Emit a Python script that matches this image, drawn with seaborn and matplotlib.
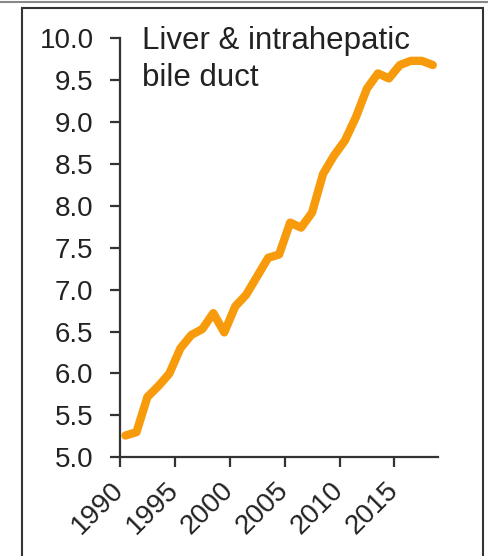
import matplotlib
matplotlib.use("Agg")
import matplotlib.pyplot as plt
import matplotlib.patches as mpatches
import matplotlib.lines as mlines
import matplotlib.transforms as mtransforms
import numpy as np
import pandas as pd
import seaborn as sns

years = list(range(1990, 2019))
rates = [5.26, 5.30, 5.72, 5.85, 6.00, 6.30, 6.46, 6.53, 6.72, 6.49,
         6.80, 6.94, 7.16, 7.38, 7.42, 7.80, 7.74, 7.92, 8.38, 8.60,
         8.78, 9.06, 9.40, 9.58, 9.52, 9.68, 9.73, 9.73, 9.68]
tick_years = [1990, 1995, 2000, 2005, 2010, 2015]
y_ticks = [5.0, 5.5, 6.0, 6.5, 7.0, 7.5, 8.0, 8.5, 9.0, 9.5, 10.0]
title = "Liver & intrahepatic\nbile duct"

sns.set_style("white")
plt.rcParams['font.family'] = ['Liberation Sans', 'DejaVu Sans']

df = pd.DataFrame({"year": years, "rate": rates})
# excel-style category axis: points sit mid-category
df["pos"] = df["year"] + 0.5

fig = plt.figure(figsize=(4.89, 5.56), dpi=100)
ax = fig.add_axes([0.2454, 0.1775, 0.8963 - 0.2454, 0.9313 - 0.1775])

sns.lineplot(data=df, x="pos", y="rate", color="#F79B0C", linewidth=6,
             ax=ax, legend=False, solid_capstyle="round", solid_joinstyle="round")

ax.set_xlim(1990, 2019)
ax.set_ylim(5.0, 10.0)
ax.set_xticks(tick_years)
ax.set_xticklabels([str(t) for t in tick_years], rotation=45, ha="right", va="center",
                   rotation_mode="anchor", fontsize=20, color="#222222")
shift = mtransforms.ScaledTranslation(4 / 100, -2 / 100, fig.dpi_scale_trans)
for lab in ax.get_xticklabels():
    lab.set_transform(lab.get_transform() + shift)
ax.set_yticks(y_ticks)
ax.set_yticklabels([f"{v:.1f}" for v in y_ticks], fontsize=20, color="#222222")
ax.set_xlabel("")
ax.set_ylabel("")

for s in ["top", "right"]:
    ax.spines[s].set_visible(False)
for s in ["left", "bottom"]:
    ax.spines[s].set_color("#333333")
    ax.spines[s].set_linewidth(1.6)
ax.tick_params(axis="both", direction="out", length=7, width=1.6,
               color="#333333", left=True, bottom=True)
ax.tick_params(axis="y", pad=12)
ax.tick_params(axis="x", pad=14)

ax.text(0.07, 1.03, title, transform=ax.transAxes, ha="left", va="top",
        fontsize=22.5, color="#222222", linespacing=1.32)

# outer panel frame and the grey line above it
fig.patches.append(mpatches.Rectangle((22 / 489, -0.05), (483.5 - 22) / 489,
                                      1.05 - 8 / 556, transform=fig.transFigure,
                                      fill=False, edgecolor="#333333", linewidth=1.5))
fig.lines.append(mlines.Line2D([0, 1], [1 - 1.5 / 556, 1 - 1.5 / 556],
                               transform=fig.transFigure, color="#888888", linewidth=1.5))

fig.savefig("out.png", dpi=100)
